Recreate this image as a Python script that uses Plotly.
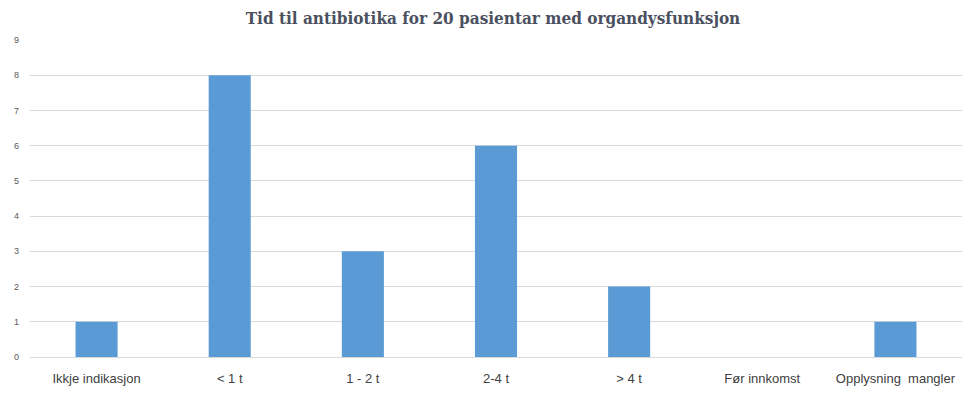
import plotly.graph_objects as go

categories = ["Ikkje indikasjon", "< 1 t", "1 - 2 t", "2-4 t", "> 4 t", "Før innkomst", "Opplysning  mangler"]
counts = [1, 8, 3, 6, 2, 0, 1]
y_ticks = list(range(0, 10))

# page body has an 8px default margin; compensate
fig = go.Figure(go.Bar(
    x=categories, y=counts,
    marker=dict(color="#5b9bd5", line=dict(width=0)),
    width=0.316,
))

fig.update_layout(
    width=970, height=390,
    margin=dict(l=22, r=16, t=32, b=41),
    paper_bgcolor="white", plot_bgcolor="white",
    title=dict(
        text="<b>Tid til antibiotika for 20 pasientar med organdysfunksjon</b>",
        x=0.5, xanchor="center", y=0.975, yanchor="middle",
        font=dict(family="DejaVu Serif Condensed, Liberation Serif, serif", size=17, color="#4a5060"),
    ),
    showlegend=False,
)
fig.update_xaxes(
    showgrid=False, showline=False, ticks="", automargin=False,
    tickfont=dict(family="Liberation Sans, Arial", size=13, color="#404040"),
    ticklabelstandoff=12,
)
fig.update_yaxes(
    range=[0, 9], tickvals=y_ticks, showgrid=True, gridcolor="#d9d9d9", gridwidth=1,
    zeroline=True, zerolinecolor="#d9d9d9", zerolinewidth=1, automargin=False,
    tickfont=dict(family="Liberation Sans, Arial", size=9, color="#595959"),
    ticks="", ticklabelstandoff=10,
)

fig.write_html("out.html")
